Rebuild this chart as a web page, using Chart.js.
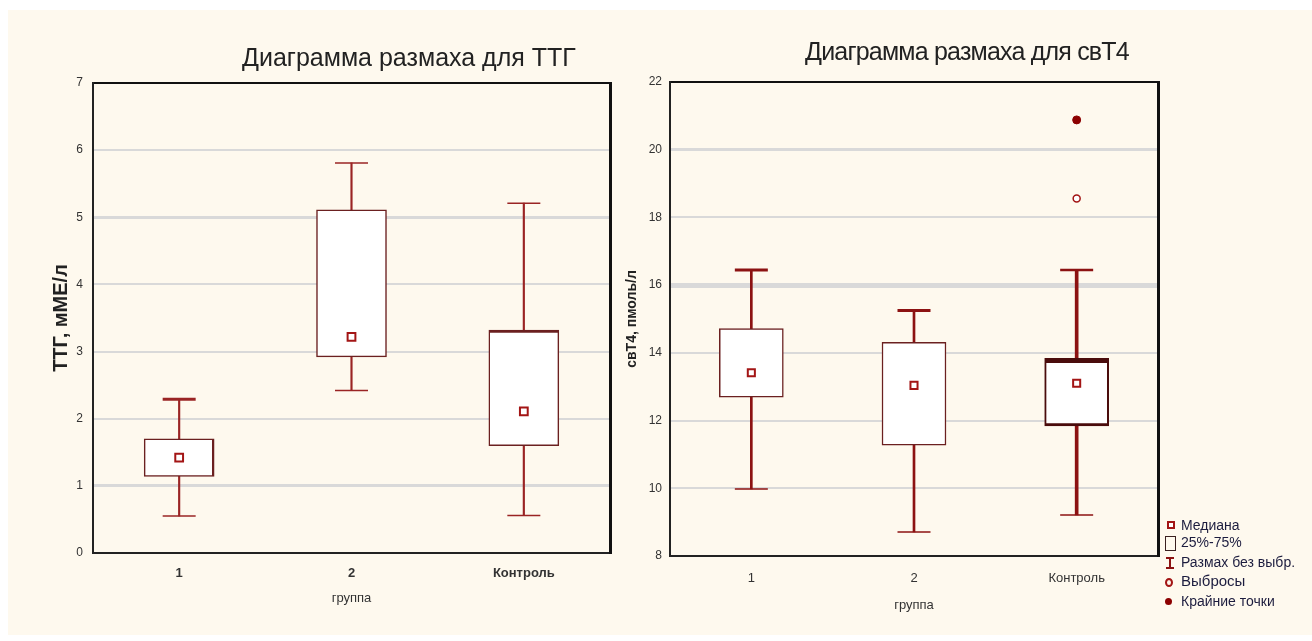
<!DOCTYPE html>
<html>
<head>
<meta charset="utf-8">
<script src="https://cdn.jsdelivr.net/npm/chart.js@4.4.1/dist/chart.umd.min.js"></script>
<style>
    body { margin: 0; background: #fff; width: 1312px; height: 641px; position: relative; overflow: hidden;
           font-family: "Liberation Sans", Arial, sans-serif; }
    #bg { position: absolute; left: 8px; top: 10px; width: 1304px; height: 625px; background: #fef9ee; }
    .holder { position: absolute; top: 10px; }
    .title { position: absolute; font-size: 25px; line-height: 25px; color: #222; white-space: nowrap; }
    .lg { position: absolute; left: 1181px; font-size: 14px; line-height: 16px; color: #1c1c3e; white-space: nowrap; }
    .ic { position: absolute; box-sizing: border-box; }
</style>
</head>
<body>
<div id="bg"></div>
<div class="holder" style="left:8px"><canvas id="ttgChart" width="612" height="625"></canvas></div>
<div class="holder" style="left:620px"><canvas id="t4Chart" width="692" height="625"></canvas></div>
<div class="title" style="left:242px;top:45px">Диаграмма размаха для ТТГ</div>
<div class="title" style="left:805px;top:39px;letter-spacing:-0.8px">Диаграмма размаха для свТ4</div>

<!-- legend of the right chart -->
<div class="ic" style="left:1167px;top:521px;width:8px;height:8px;border:2px solid #a31515;background:#fff"></div>
<div class="lg" style="top:517px">Медиана</div>
<div class="ic" style="left:1165px;top:536px;width:11px;height:15px;border:1.5px solid #3a2020"></div>
<div class="lg" style="top:534px">25%-75%</div>
<div class="ic" style="left:1166px;top:557px;width:8px;height:2px;background:#8c1212"></div>
<div class="ic" style="left:1169px;top:557px;width:2px;height:12px;background:#8c1212"></div>
<div class="ic" style="left:1166px;top:567px;width:8px;height:2px;background:#8c1212"></div>
<div class="lg" style="top:554px">Размах без выбр.</div>
<div class="ic" style="left:1165px;top:578px;width:8px;height:9px;border:2px solid #a31515;border-radius:50%"></div>
<div class="lg" style="top:573px;font-size:15px">Выбросы</div>
<div class="ic" style="left:1165px;top:598px;width:7px;height:7px;background:#8c0000;border-radius:50%"></div>
<div class="lg" style="top:593px">Крайние точки</div>

<script>
var groups = ['1', '2', 'Контроль'];

// ТТГ, мМЕ/л
var ttgTicks = [0, 1, 2, 3, 4, 5, 6, 7];
var ttgMin = [0.55, 2.42, 0.56];
var ttgQ1 = [1.14, 2.92, 1.60];
var ttgMedian = [1.42, 3.22, 2.11];
var ttgQ3 = [1.70, 5.11, 3.32];
var ttgMax = [2.29, 5.81, 5.21];

// свТ4, пмоль/л
var t4Ticks = [8, 10, 12, 14, 16, 18, 20, 22];
var t4Min = [9.98, 8.71, 9.21];
var t4Q1 = [12.69, 11.27, 11.84];
var t4Median = [13.41, 13.04, 13.10];
var t4Q3 = [14.72, 14.31, 13.84];
var t4Max = [16.45, 15.25, 16.45];
var t4Outliers = [null, null, 18.56];
var t4Extremes = [null, null, 20.88];

Chart.defaults.font.family = '"Liberation Sans", Arial, sans-serif';

function pointSet(values, style, radius, width, stroke, fill) {
    return {
        type: 'line',
        data: values,
        showLine: false,
        pointStyle: style,
        pointRadius: radius,
        pointBorderWidth: width,
        pointBorderColor: stroke,
        pointBackgroundColor: fill,
        order: 1
    };
}

function boxChart(canvasId, o) {
    var datasets = [];
    // whisker line, one dataset per group so each one gets its own thickness
    groups.forEach(function (g, i) {
        datasets.push({
            type: 'bar',
            data: groups.map(function (x, j) { return j === i ? [o.min[j], o.max[j]] : null; }),
            backgroundColor: o.whiskerColor,
            borderWidth: 0,
            barThickness: o.whiskerWidth[i],
            grouped: false,
            order: 5
        });
    });
    datasets.push({
        type: 'bar',
        data: groups.map(function (x, j) { return [o.q1[j], o.q3[j]]; }),
        backgroundColor: '#ffffff',
        borderColor: o.boxColor,
        borderWidth: o.boxBorder,
        borderSkipped: false,
        barThickness: o.boxWidth,
        grouped: false,
        order: 4
    });
    datasets.push(pointSet(o.max, 'line', 16.5, o.capTop, o.whiskerColor, o.whiskerColor));
    datasets.push(pointSet(o.min, 'line', 16.5, 1.5, o.whiskerColor, o.whiskerColor));
    datasets.push(pointSet(o.median, 'rect', o.medianSize, 2, '#a31515', '#ffffff'));
    if (o.outliers) {
        datasets.push(pointSet(o.outliers, 'circle', 3.5, 1.5, '#a31515', '#ffffff'));
        datasets.push(pointSet(o.extremes, 'circle', 4, 1, '#8c0000', '#8c0000'));
    }

    return new Chart(document.getElementById(canvasId), {
        type: 'bar',
        data: { labels: groups, datasets: datasets },
        options: {
            responsive: false,
            animation: false,
            events: [],
            layout: { padding: o.padding, autoPadding: false },
            plugins: { legend: { display: false }, tooltip: { enabled: false } },
            scales: {
                x: {
                    type: 'category',
                    offset: true,
                    grid: { display: false },
                    border: { display: true, color: '#222', width: 2 },
                    ticks: { color: '#333', font: o.xFont, padding: o.xTickPad },
                    title: { display: true, text: 'группа', color: '#333', font: { size: 13 }, padding: 0 },
                    afterFit: function (s) { s.height = o.xHeight; }
                },
                x2: {
                    type: 'category',
                    labels: groups,
                    position: 'top',
                    offset: true,
                    grid: { display: false },
                    ticks: { display: false },
                    border: { display: true, color: '#111', width: 2 },
                    afterFit: function (s) { s.height = 0; }
                },
                y: {
                    min: o.ticks[0],
                    max: o.ticks[o.ticks.length - 1],
                    ticks: { stepSize: o.ticks[1] - o.ticks[0], color: '#333', font: { size: 12 }, padding: o.yTickPad },
                    grid: {
                        color: '#d9d9d9',
                        drawTicks: false,
                        lineWidth: function (c) { return o.gridWidth[c.tick.value] || 2; }
                    },
                    border: { display: true, color: '#222', width: 2 },
                    title: { display: true, text: o.yTitle, color: '#222', font: o.yTitleFont, padding: { top: o.yTitlePad, bottom: 0 } },
                    afterFit: function (s) { s.width = o.yWidth; }
                },
                y2: {
                    position: 'right',
                    min: o.ticks[0],
                    max: o.ticks[o.ticks.length - 1],
                    grid: { display: false },
                    ticks: { display: false },
                    border: { display: true, color: '#111', width: 3 },
                    afterFit: function (s) { s.width = 0; }
                }
            }
        }
    });
}

boxChart('ttgChart', {
    ticks: ttgTicks, min: ttgMin, q1: ttgQ1, median: ttgMedian, q3: ttgQ3, max: ttgMax,
    whiskerColor: '#9a2424',
    whiskerWidth: [1.5, 1.5, 1.5],
    capTop: [3, 1.5, 1.5],
    boxColor: '#6b2020',
    boxBorder: [
        { top: 1.5, bottom: 1.5, left: 1.5, right: 2.5 },
        1.5,
        { top: 3, bottom: 1.5, left: 1.5, right: 1.5 }
    ],
    boxWidth: 70,
    medianSize: 5.5,
    gridWidth: { 1: 3, 5: 3 },
    yTitle: 'ТТГ, мМЕ/л',
    yTitleFont: { size: 20, weight: 'bold' },
    yTitlePad: 41,
    yWidth: 85,
    yTickPad: 10,
    xFont: { size: 13, weight: 'bold' },
    xTickPad: 5,
    xHeight: 53,
    padding: { top: 73, right: 10, bottom: 29, left: 0 }
});

boxChart('t4Chart', {
    ticks: t4Ticks, min: t4Min, q1: t4Q1, median: t4Median, q3: t4Q3, max: t4Max,
    outliers: t4Outliers, extremes: t4Extremes,
    whiskerColor: '#8c1212',
    whiskerWidth: [2, 2, 3],
    capTop: [3, 3, 2.5],
    boxColor: ['#6b2020', '#6b2020', '#4a0c0c'],
    boxBorder: [1.5, 1.5, { top: 5, bottom: 3, left: 2, right: 2 }],
    boxWidth: 64,
    medianSize: 5,
    gridWidth: { 16: 5, 20: 3 },
    yTitle: 'свТ4, пмоль/л',
    yTitleFont: { size: 14, weight: 'bold' },
    yTitlePad: 4,
    yWidth: 50,
    yTickPad: 8,
    xFont: { size: 13 },
    xTickPad: 7,
    xHeight: 57,
    padding: { top: 72, right: 154, bottom: 22, left: 0 }
});
</script>
</body>
</html>
